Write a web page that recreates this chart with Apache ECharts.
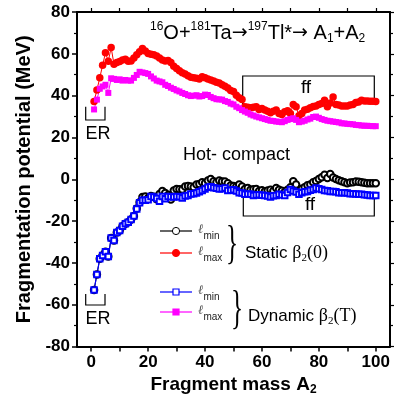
<!DOCTYPE html>
<html><head><meta charset="utf-8">
<script src="https://cdn.jsdelivr.net/npm/echarts@6/dist/echarts.min.js"></script>
<style>html,body{margin:0;padding:0;background:#fff}#c{width:398px;height:401px}</style>
</head><body><div id="c"></div>
<script>
const massA = [1,2,3,4,5,6,7,8,9,10,11,12,13,14,15,16,17,18,19,20,21,22,23,24,25,26,27,28,29,30,31,32,33,34,35,36,37,38,39,40,41,42,43,44,45,46,47,48,49,50,51,52,53,54,55,56,57,58,59,60,61,62,63,64,65,66,67,68,69,70,71,72,73,74,75,76,77,78,79,80,81,82,83,84,85,86,87,88,89,90,91,92,93,94,95,96,97,98,99,100];

const staticLmax = [37.2,42.7,48.5,54.5,60.5,56.5,63,55,55.8,56.3,57,57.4,56.5,56.6,58,59.5,61,62.6,61.3,60.2,59.8,59.5,59,58,57.1,56.6,56.8,55.8,54,53,51.9,51,50.4,49.5,48.8,48.5,48.3,48,49,48.5,48,47.5,47,46.4,46,45.2,44.5,43.6,42.5,42,40.2,39,38.1,34.7,34.5,34.2,34.5,34.7,33.4,33.8,33.1,32.5,31.8,32.5,33.1,31.5,31,32.3,32.8,31.5,35.8,34.7,30.4,31.5,33.1,33.5,34.2,34.8,35.1,35.8,36.2,37.8,34.7,36.5,39.4,35.8,35.5,35.1,35,35,35.5,35.8,36.7,37,37.8,37.5,37.5,37.3,37.3,37.2];

const dynamicLmax = [33.4,38.1,43.3,44.4,45.2,41.3,48.3,48,47.5,47.8,47.2,47.5,47.2,47.2,48.5,49.9,51.4,51.1,50.8,50.4,49.2,48.2,47.2,46.8,46.4,45.2,44.6,43.8,43.2,42.5,42,41.3,40.8,40.2,39.8,40,40.2,39.6,39.8,40.5,40.3,39.4,38.8,38.3,38.2,38.1,37.4,37,36.2,35.8,34.7,34,33.1,32.4,31.8,31,30.5,30,29.6,29.2,28.8,28.4,28,27.9,27.6,27.5,27.3,27.8,28.4,28.8,29.2,28.4,27.3,27.6,28,28.6,29,29.8,30,29.4,28.8,28.4,28,27.8,27.6,27.4,27.2,26.8,26.7,26.5,26.4,26.3,26,25.9,25.7,25.6,25.6,25.5,25.4,25.4];

const staticLmin = [-52.9,-45.5,-38,-36.4,-34.6,-36.9,-28.1,-29.3,-25.4,-24.5,-22.5,-21.2,-20.5,-19.2,-17.6,-14,-11,-8.5,-8.2,-9,-8,-8.3,-9.5,-7,-5.6,-6.5,-7.5,-9.7,-5.3,-4.6,-4.8,-4.9,-3.5,-3.2,-3.5,-3.8,-2.5,-2.2,-1.4,-1.9,-0.6,0.1,-0.9,-1.4,-0.6,-1.1,-1.1,-1.9,-3,-3.2,-3.5,-2.5,-3.5,-4.6,-4.2,-5,-4.8,-4.6,-5.6,-5.2,-5.8,-5.4,-5,-5.6,-4.2,-5,-5.5,-6.1,-5,-3.8,-0.9,-2.5,-5.6,-4.5,-3.8,-2.8,-2.5,-1.4,-0.8,0.1,1,2.2,0.6,2.5,0.9,0.1,-0.5,-0.9,-1.4,-1.9,-1.5,-1.4,-1.1,-1.2,-1.4,-1.6,-1.9,-1.9,-1.9,-1.9];

const dynamicLmin = [-52.9,-45.5,-38,-36.4,-34.6,-36.9,-28.1,-29.3,-25.4,-24.5,-22.5,-21.2,-20.5,-19.2,-17.6,-14.2,-11.2,-10,-10,-9.8,-8.2,-8.5,-9.2,-10.5,-8.2,-9.3,-8.2,-8.4,-8.5,-8.2,-8.3,-8.9,-8,-7.7,-7,-6.9,-6.6,-6,-5.3,-4.6,-3.8,-3.6,-4.1,-4.3,-4.6,-4.5,-4.2,-5.3,-5.2,-5,-5.6,-6.4,-6.6,-7.2,-7,-7.2,-7.7,-7.5,-7.4,-7.6,-7.7,-8,-8.5,-7.9,-7.7,-7.2,-7.5,-7.7,-6.3,-4.9,-5.6,-6.1,-7.2,-6.4,-6,-5.8,-5.2,-4.9,-4.2,-4.5,-4.9,-5.3,-5.5,-5.8,-5.8,-6,-6.4,-6.4,-6.4,-6.6,-6.9,-6.9,-7,-7.2,-7.2,-7.4,-7.5,-7.7,-7.7,-7.8];

const xTickValues = [0,10,20,30,40,50,60,70,80,90,100];
const xLabelValues = [0,20,40,60,80,100];

const pairs = v => massA.map((a, i) => [a, v[i]]);

const chart = echarts.init(document.getElementById('c'), null, {renderer: 'canvas'});
const SANS = 'Liberation Sans, Arial, sans-serif';
const SERIF = 'Liberation Serif, Times New Roman, serif';
const axisLabelStyle = {color: '#000', fontWeight: 'bold', fontSize: 17, fontFamily: SANS};

function txt(x, y, text, size, opts) {
  return Object.assign({type: 'text', x: x, y: y, style: Object.assign({
    text: text, fill: '#000', font: size + 'px ' + SANS, align: 'center', verticalAlign: 'middle'
  }, opts || {})});
}
function poly(points, w) {
  return {type: 'polyline', shape: {points: points}, style: {stroke: '#000', lineWidth: w || 1.2, fill: null}};
}
function legendItem(y, color, symbol, filled, sub) {
  const items = [{type: 'line', shape: {x1: 160, y1: y, x2: 192, y2: y}, style: {stroke: color, lineWidth: 1.2}}];
  if (symbol === 'circle') {
    items.push({type: 'circle', shape: {cx: 176, cy: y, r: 3.6}, style: {fill: filled ? color : '#fff', stroke: color, lineWidth: 1}});
  } else {
    items.push({type: 'rect', shape: {x: 173, y: y - 3, width: 6, height: 6}, style: {fill: filled ? color : '#fff', stroke: color, lineWidth: 1.2}});
  }
  items.push({type: 'text', x: 198, y: y + 1, style: {
    text: '{l|ℓ}{s|' + sub + '}',
    align: 'left', verticalAlign: 'middle',
    rich: {
      l: {fontFamily: 'DejaVu Serif, serif', fontStyle: 'italic', fontSize: 13, fill: '#555', lineHeight: 18, verticalAlign: 'top'},
      s: {fontFamily: SANS, fontSize: 10, fill: '#222', lineHeight: 10, verticalAlign: 'bottom'}
    }
  }});
  return items;
}

const graphics = [
  // title
  {type: 'text', x: 150, y: 33, style: {
    text: '{s|16}{m|O+}{s|181}{m|Ta}{a|→}{s|197}{m|Tl*}{a|→}{m| A}{b|1}{m|+A}{b|2}',
    align: 'left', verticalAlign: 'middle',
    rich: {
      m: {fontFamily: SANS, fontSize: 20, lineHeight: 24, fill: '#000'},
      a: {fontFamily: 'DejaVu Sans, sans-serif', fontSize: 19, lineHeight: 24, fill: '#000'},
      s: {fontFamily: SANS, fontSize: 12, lineHeight: 12, verticalAlign: 'top', fill: '#000'},
      b: {fontFamily: SANS, fontSize: 12, lineHeight: 11, verticalAlign: 'bottom', fill: '#000'}
    }
  }},
  // ER upper
  poly([[85.7, 106.7], [85.7, 120], [105, 120], [105, 106.7]]),
  txt(98, 134, 'ER', 18),
  // ER lower
  poly([[85.7, 294], [85.7, 305], [105, 305], [105, 294]]),
  txt(98, 319, 'ER', 18),
  // ff upper
  poly([[242.7, 109], [242.7, 76], [374.3, 76], [374.3, 101.7]]),
  txt(306, 88, 'ff', 19),
  // ff lower
  poly([[243.3, 193], [243.3, 216], [374.3, 216], [374.3, 198]]),
  txt(310, 205, 'ff', 19),
  // Hot compact
  txt(236.5, 155, 'Hot- compact', 18),
  // braces
  {type: 'text', x: 232, y: 246, scaleX: 0.55, style: {text: '}', font: '46px ' + SERIF, fill: '#000', align: 'center', verticalAlign: 'middle'}},
  {type: 'text', x: 237, y: 311, scaleX: 0.55, style: {text: '}', font: '46px ' + SERIF, fill: '#000', align: 'center', verticalAlign: 'middle'}},
  {type: 'text', x: 245, y: 253, style: {
    text: '{a|Static }{g|β}{b|2}{g|(0)}', align: 'left', verticalAlign: 'middle',
    rich: {
      a: {fontFamily: SANS, fontSize: 17, lineHeight: 22, fill: '#000'},
      g: {fontFamily: SERIF, fontSize: 18, lineHeight: 22, fill: '#000'},
      b: {fontFamily: SERIF, fontSize: 11, lineHeight: 12, verticalAlign: 'bottom', fill: '#000'}
    }
  }},
  {type: 'text', x: 248, y: 316, style: {
    text: '{a|Dynamic }{g|β}{b|2}{g|(T)}', align: 'left', verticalAlign: 'middle',
    rich: {
      a: {fontFamily: SANS, fontSize: 17, lineHeight: 22, fill: '#000'},
      g: {fontFamily: SERIF, fontSize: 18, lineHeight: 22, fill: '#000'},
      b: {fontFamily: SERIF, fontSize: 11, lineHeight: 12, verticalAlign: 'bottom', fill: '#000'}
    }
  }}
].concat(legendItem(231, '#000', 'circle', false, 'min'))
 .concat(legendItem(253, '#ff0000', 'circle', true, 'max'))
 .concat(legendItem(292, '#0000ff', 'rect', false, 'min'))
 .concat(legendItem(312, '#ff00ff', 'rect', true, 'max'));

const baseX = {
  type: 'value', min: -5, max: 105,
  axisLine: {show: true, onZero: false, lineStyle: {color: '#000', width: 2}},
  splitLine: {show: false}
};
const baseY = {
  type: 'value', min: -80, max: 80, interval: 20,
  axisLine: {show: true, onZero: false, lineStyle: {color: '#000', width: 2}},
  splitLine: {show: false}
};

chart.setOption({
  animation: false,
  backgroundColor: '#fff',
  grid: {left: 77, right: 8, top: 12, bottom: 49, containLabel: false},
  xAxis: [
    Object.assign({}, baseX, {
      position: 'bottom',
      name: '{m|Fragment mass A}{s|2}', nameLocation: 'middle', nameGap: 27,
      nameTextStyle: {rich: {
        m: {fontFamily: SANS, fontWeight: 'bold', fontSize: 19, color: '#000', lineHeight: 22},
        s: {fontFamily: SANS, fontWeight: 'bold', fontSize: 12, color: '#000', lineHeight: 12, verticalAlign: 'bottom'}
      }},
      axisTick: {show: true, inside: false, length: 5, lineStyle: {width: 1.5, color: '#000'}, customValues: xTickValues},
      axisLabel: Object.assign({margin: 7, customValues: xLabelValues}, axisLabelStyle)
    }),
    Object.assign({}, baseX, {
      position: 'top',
      axisTick: {show: true, inside: false, length: 4, lineStyle: {width: 1.2, color: '#000'}, customValues: xTickValues},
      axisLabel: {show: false}
    })
  ],
  yAxis: [
    Object.assign({}, baseY, {
      position: 'left',
      name: 'Fragmentation potential (MeV)', nameLocation: 'middle', nameGap: 42, nameRotate: 90,
      nameTextStyle: {fontFamily: SANS, fontWeight: 'bold', fontSize: 20, color: '#000'},
      axisTick: {show: true, inside: false, length: 5, lineStyle: {width: 1.5, color: '#000'}},
      minorTick: {show: true, splitNumber: 2, length: 3, lineStyle: {width: 1.2, color: '#000'}},
      axisLabel: Object.assign({margin: 7}, axisLabelStyle)
    }),
    Object.assign({}, baseY, {
      position: 'right',
      axisTick: {show: true, inside: false, length: 4, lineStyle: {width: 1.2, color: '#000'}},
      minorTick: {show: true, splitNumber: 2, length: 3, lineStyle: {width: 1.2, color: '#000'}},
      axisLabel: {show: false}
    })
  ],
  series: [
    {type: 'line', name: 'static lmax', data: pairs(staticLmax), symbol: 'circle', symbolSize: 7.5,
      lineStyle: {color: '#ff0000', width: 1}, itemStyle: {color: '#ff0000'}},
    {type: 'line', name: 'dynamic lmax', data: pairs(dynamicLmax), symbol: 'rect', symbolSize: 6,
      lineStyle: {color: '#ff00ff', width: 1}, itemStyle: {color: '#ff00ff'}},
    {type: 'line', name: 'static lmin', data: pairs(staticLmin), symbol: 'emptyCircle', symbolSize: 6.5,
      lineStyle: {color: '#000', width: 1}, itemStyle: {color: '#000', borderWidth: 1}},
    {type: 'line', name: 'dynamic lmin', data: pairs(dynamicLmin), symbol: 'emptyRect', symbolSize: 5.5,
      lineStyle: {color: '#0000ff', width: 1.2}, itemStyle: {color: '#0000ff', borderWidth: 1.2}}
  ],
  graphic: graphics
});
</script>
</body></html>
